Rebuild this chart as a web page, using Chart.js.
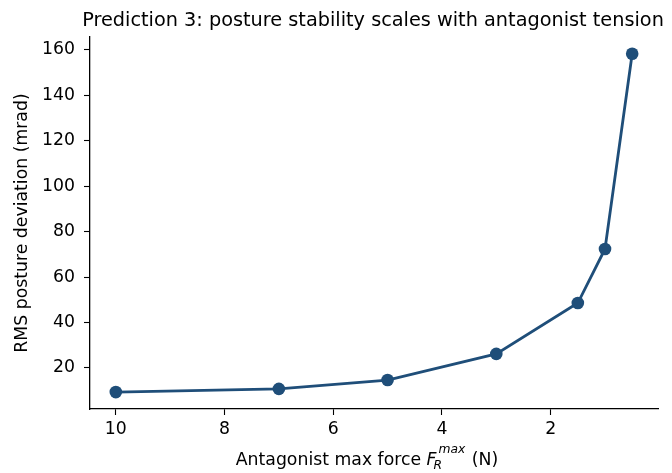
<!DOCTYPE html>
<html>
<head>
<meta charset="utf-8">
<script src="https://cdn.jsdelivr.net/npm/chart.js@4/dist/chart.umd.min.js"></script>
<style>
  html, body { margin: 0; padding: 0; background: #fff; }
  #wrap { width: 672px; height: 473px; }
</style>
</head>
<body>
<div id="wrap"><canvas id="chart"></canvas></div>
<script>
const forces = [10, 7, 5, 3, 1.5, 1.0, 0.5]
const rmsDev = [9.4, 10.8, 14.7, 26.2, 48.6, 72.4, 158.3]
const xTicks = [2, 4, 6, 8, 10]
const yTicks = [20, 40, 60, 80, 100, 120, 140, 160]
const titleText = "Prediction 3: posture stability scales with antagonist tension"

const lineColor = "#1f4e79"
const fontFam = "'DejaVu Sans', sans-serif"
const labelSize = 17.3

// title + x axis title (F_R^max needs sub/superscript, so both drawn by hand)
const textPlugin = {
    id: "texts",
    afterDraw(chart) {
        const ctx = chart.ctx
        const area = chart.chartArea
        const mid = (area.left + area.right) / 2
        ctx.save()
        ctx.fillStyle = "#000"
        ctx.textBaseline = "alphabetic"

        ctx.textAlign = "center"
        ctx.font = "19.3px " + fontFam
        ctx.fillText(titleText, mid - 1, 25.5)

        ctx.textAlign = "left"
        const big = labelSize + "px " + fontFam
        const small = "italic 12.3px " + fontFam
        ctx.font = big
        const w1 = ctx.measureText("Antagonist max force ").width
        const w4 = ctx.measureText(" (N)").width
        ctx.font = "italic " + big
        const w2 = ctx.measureText("F").width
        ctx.font = small
        const w3 = ctx.measureText("max").width + 3
        let x = mid - 7 - (w1 + w2 + w3 + w4) / 2
        const y = 465
        ctx.font = big
        ctx.fillText("Antagonist max force ", x, y)
        x += w1
        ctx.font = "italic " + big
        ctx.fillText("F", x, y)
        x += w2
        ctx.font = small
        ctx.fillText("R", x - 3, y + 4)
        ctx.fillText("max", x + 2, y - 12)
        x += w3
        ctx.font = big
        ctx.fillText(" (N)", x, y)
        ctx.restore()
    }
}

const ctx = document.getElementById("chart").getContext("2d")
Chart.defaults.font.family = fontFam
Chart.defaults.color = "#000"

const chart = new Chart(ctx, {
    type: "line",
    data: {
        datasets: [{
            data: forces.map((f, i) => ({ x: f, y: rmsDev[i] })),
            borderColor: lineColor,
            backgroundColor: lineColor,
            borderWidth: 2.8,
            pointRadius: 6.3,
            pointBorderWidth: 0,
            tension: 0,
        }]
    },
    options: {
        responsive: true,
        maintainAspectRatio: false,
        animation: false,
        layout: { padding: { top: 37, right: 14, left: 0, bottom: 0 } },
        plugins: {
            legend: { display: false },
            tooltip: { enabled: false },
        },
        scales: {
            x: {
                type: "linear",
                reverse: true,
                min: 0.025,
                max: 10.475,
                afterBuildTicks: s => { s.ticks = xTicks.map(v => ({ value: v })) },
                afterFit: s => { s.height = 64 },
                grid: { drawOnChartArea: false, drawTicks: true, tickLength: 6, color: "#000", tickWidth: 1.1 },
                border: { display: true, color: "#000", width: 1.3 },
                ticks: { font: { size: labelSize }, color: "#000", padding: 4, maxRotation: 0 },
            },
            y: {
                type: "linear",
                min: 1.95,
                max: 165.7,
                afterBuildTicks: s => { s.ticks = yTicks.map(v => ({ value: v })) },
                afterFit: s => { s.width = 90 },
                grid: { drawOnChartArea: false, drawTicks: true, tickLength: 6, color: "#000", tickWidth: 1.1 },
                border: { display: true, color: "#000", width: 1.3 },
                ticks: { font: { size: labelSize }, color: "#000", padding: 9 },
                title: {
                    display: true,
                    text: "RMS posture deviation (mrad)",
                    font: { size: labelSize },
                    color: "#000",
                    padding: { top: 12, bottom: 0 },
                },
            },
        },
    },
    plugins: [textPlugin],
})
</script>
</body>
</html>
